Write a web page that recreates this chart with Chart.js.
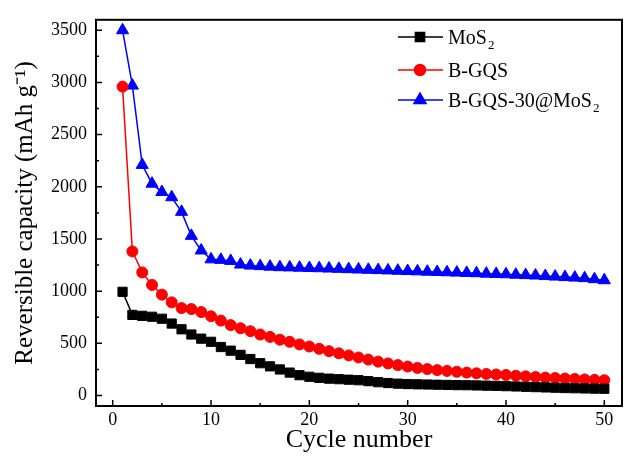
<!DOCTYPE html>
<html>
<head>
<meta charset="utf-8">
<script src="https://cdn.jsdelivr.net/npm/chart.js@4/dist/chart.umd.min.js"></script>
<style>
  html, body { margin: 0; padding: 0; background: #fff; }
  #wrap { width: 630px; height: 459px; }
</style>
</head>
<body>
<div id="wrap"><canvas id="chart" width="630" height="459"></canvas></div>
<script>
const cycles = Array.from({ length: 50 }, (_, i) => i + 1)

const mos2 = [994, 773, 764, 755, 736, 690, 635, 585, 545, 515, 465, 430, 390, 350, 310, 280, 250, 220, 195, 180,
    170, 162, 157, 152, 147, 138, 128, 120, 114, 110, 108, 106, 104, 102, 100, 99, 97, 95, 93, 90,
    87, 84, 81, 78, 75, 72, 70, 68, 66, 65]
const bgqs = [2960, 1381, 1180, 1060, 967, 893, 838, 829, 800, 760, 718, 675, 645, 617, 585, 562, 535, 515, 490, 470,
    448, 425, 405, 385, 365, 345, 325, 308, 292, 278, 265, 254, 244, 236, 228, 220, 213, 207, 202, 197,
    190, 184, 178, 172, 168, 163, 159, 155, 151, 147]
const composite = [3500, 2970, 2210, 2030, 1950, 1900, 1760, 1530, 1390, 1305, 1300, 1290, 1255, 1245, 1240, 1235, 1230, 1228, 1225, 1222,
    1220, 1217, 1214, 1211, 1208, 1205, 1202, 1199, 1196, 1193, 1190, 1187, 1184, 1181, 1178, 1175, 1172, 1168, 1165, 1162,
    1158, 1154, 1150, 1145, 1140, 1135, 1130, 1125, 1115, 1105]

const xTicks = [0, 10, 20, 30, 40, 50]
const yTicks = [0, 500, 1000, 1500, 2000, 2500, 3000, 3500]

const serif = "'Liberation Serif', 'Times New Roman', serif"

function points(values) {
    return values.map((v, i) => ({ x: cycles[i], y: v }))
}

// frame + inward ticks (left and bottom only)
const frame = {
    id: "frame",
    afterDraw(chart) {
        const { ctx, chartArea: a, scales } = chart
        ctx.save()
        ctx.strokeStyle = "#000"
        ctx.lineWidth = 2
        ctx.strokeRect(a.left, a.top, a.right - a.left, a.bottom - a.top)
        ctx.lineWidth = 1.5
        ctx.beginPath()
        for (let v = 0; v <= 50; v += 5) {
            const px = scales.x.getPixelForValue(v)
            const len = v % 10 === 0 ? 6 : 3
            ctx.moveTo(px, a.bottom)
            ctx.lineTo(px, a.bottom - len)
        }
        for (let v = 0; v <= 3500; v += 250) {
            const py = scales.y.getPixelForValue(v)
            const len = v % 500 === 0 ? 6 : 3
            ctx.moveTo(a.left, py)
            ctx.lineTo(a.left + len, py)
        }
        ctx.stroke()
        ctx.restore()
    }
}

// legend drawn inside the plot, with subscripts
const innerLegend = {
    id: "innerLegend",
    afterDraw(chart) {
        const { ctx } = chart
        const rows = [37, 70, 100]
        ctx.save()
        chart.data.datasets.forEach((ds, i) => {
            const y = rows[i]
            ctx.strokeStyle = ds.borderColor
            ctx.lineWidth = 1.5
            ctx.beginPath()
            ctx.moveTo(398, y)
            ctx.lineTo(443, y)
            ctx.stroke()
            Chart.helpers.drawPoint(ctx, {
                pointStyle: ds.pointStyle,
                radius: ds.pointRadius,
                borderWidth: 1
            }, 420, y)
            ctx.fillStyle = ds.borderColor
            ctx.strokeStyle = ds.borderColor
            ctx.fill()
            ctx.fillStyle = "#000"
            ctx.textBaseline = "alphabetic"
            ctx.textAlign = "left"
            let x = 448
            const parts = ds.label.split("₂")
            parts.forEach((p, j) => {
                ctx.font = "20px " + serif
                ctx.fillText(p, x, y + 7)
                x += ctx.measureText(p).width
                if (j < parts.length - 1) {
                    ctx.font = "13px " + serif
                    ctx.fillText("2", x + 1, y + 12)
                    x += ctx.measureText("2").width + 1
                }
            })
        })
        ctx.restore()
    }
}

function series(label, values, color, style, radius) {
    return {
        label: label,
        data: points(values),
        borderColor: color,
        backgroundColor: color,
        borderWidth: 1.5,
        pointStyle: style,
        pointRadius: radius,
        pointHoverRadius: radius,
        pointBorderWidth: 1
    }
}

let config = {
    type: "line",
    data: {
        datasets: [
            series("MoS₂", mos2, "#000000", "rect", 6.5),
            series("B-GQS", bgqs, "#ff0000", "circle", 5.5),
            series("B-GQS-30@MoS₂", composite, "#0000ff", "triangle", 7)
        ]
    },
    options: {
        responsive: false,
        animation: false,
        layout: { padding: { top: 5, right: 6, left: 0, bottom: 0 } },
        plugins: {
            legend: { display: false },
            tooltip: { enabled: false }
        },
        scales: {
            x: {
                type: "linear",
                min: -1.7,
                max: 51.8,
                afterBuildTicks: scale => { scale.ticks = xTicks.map(v => ({ value: v })) },
                afterFit: scale => { scale.height = 53 },
                grid: { display: false, drawTicks: false },
                border: { display: false },
                ticks: {
                    padding: 3,
                    color: "#000",
                    font: { family: serif, size: 18 },
                    maxRotation: 0,
                    callback: v => String(v)
                },
                title: {
                    display: true,
                    text: "Cycle number",
                    color: "#000",
                    font: { family: serif, size: 26 },
                    padding: { top: 0, bottom: 3 }
                }
            },
            y: {
                type: "linear",
                min: -100,
                max: 3600,
                afterBuildTicks: scale => { scale.ticks = yTicks.map(v => ({ value: v })) },
                afterFit: scale => { scale.width = 96 },
                grid: { display: false, drawTicks: false },
                border: { display: false },
                ticks: {
                    padding: 9,
                    color: "#000",
                    font: { family: serif, size: 18 },
                    callback: v => String(v)
                },
                title: {
                    display: true,
                    text: "Reversible capacity (mAh g⁻¹)",
                    color: "#000",
                    font: { family: serif, size: 25 },
                    padding: { top: 10, bottom: 0 }
                }
            }
        }
    },
    plugins: [frame, innerLegend]
}

let chart = new Chart(document.getElementById("chart"), config)
</script>
</body>
</html>
